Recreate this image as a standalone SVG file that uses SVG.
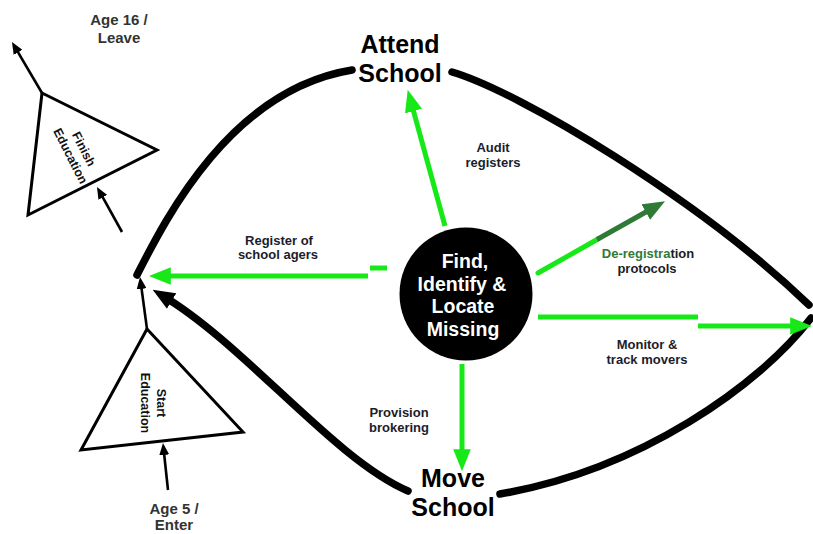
<svg xmlns="http://www.w3.org/2000/svg" width="813" height="534" viewBox="0 0 813 534">
<style>
.arc{fill:none;stroke:#000;stroke-width:7.5;stroke-linecap:round}
.thin{fill:none;stroke:#000;stroke-width:2.6}
.tri{fill:#fff;stroke:#000;stroke-width:3;stroke-linejoin:miter}
.g{fill:none;stroke:#17e817;stroke-width:5}
.dg{fill:none;stroke:#2f7a37;stroke-width:5}
.lbl{font-family:"Liberation Sans",Arial,sans-serif;font-weight:bold;font-size:13px;fill:#1c1c2a;text-anchor:middle}
.age{font-family:"Liberation Sans",Arial,sans-serif;font-weight:bold;font-size:15px;fill:#333;text-anchor:middle}
.big{font-family:"Liberation Sans",Arial,sans-serif;font-weight:bold;font-size:25px;fill:#000;text-anchor:middle}
.tl{font-family:"Liberation Sans",Arial,sans-serif;font-weight:bold;font-size:12.5px;fill:#111;text-anchor:middle}
.ctr{font-family:"Liberation Sans",Arial,sans-serif;font-weight:bold;font-size:19.5px;fill:#fff;text-anchor:middle}
</style>
<defs>
<marker id="ga" markerUnits="userSpaceOnUse" markerWidth="22" markerHeight="18" refX="8" refY="8" orient="auto" viewBox="0 0 20 16"><path d="M0,0 L20,8 L0,16 z" fill="#17e817"/></marker>
<marker id="dga" markerUnits="userSpaceOnUse" markerWidth="22" markerHeight="18" refX="8" refY="8" orient="auto" viewBox="0 0 20 16"><path d="M0,0 L20,8 L0,16 z" fill="#2f7a37"/></marker>
<marker id="ba" markerUnits="userSpaceOnUse" markerWidth="22" markerHeight="18" refX="10" refY="9" orient="auto" viewBox="0 0 22 18"><path d="M0,0 L22,9 L0,18 z" fill="#000"/></marker>
<marker id="sa" markerUnits="userSpaceOnUse" markerWidth="12" markerHeight="10" refX="6" refY="5" orient="auto" viewBox="0 0 12 10"><path d="M0,0 L12,5 L0,10 z" fill="#000"/></marker>
</defs>
<rect width="813" height="534" fill="#fff"/>

<g id="connectors">
<path class="arc" d="M137,275 C165,220 230,90 352,70"/>
<path class="arc" d="M452,72 C520,92 700,200 809,305"/>
<path class="arc" d="M811,318 C760,385 640,470 500,494"/>
<path class="arc" d="M408,491 C335,460 245,345 163,296" marker-end="url(#ba)"/>
<line class="thin" x1="147" y1="329" x2="140.8" y2="283" marker-end="url(#sa)"/>
<line class="thin" x1="168" y1="490" x2="163.6" y2="449" marker-end="url(#sa)"/>
<line class="thin" x1="42" y1="93" x2="15" y2="47.2" marker-end="url(#sa)"/>
<line class="thin" x1="122" y1="232" x2="99.9" y2="192.2" marker-end="url(#sa)"/>
<line class="g" x1="445" y1="226" x2="411.2" y2="102.6" marker-end="url(#ga)"/>
<line class="g" x1="368" y1="276" x2="162" y2="276" marker-end="url(#ga)"/>
<line class="g" x1="370" y1="268" x2="387" y2="268"/>
<line class="g" x1="538" y1="273" x2="598" y2="239" stroke-linecap="round"/>
<line class="dg" x1="597" y1="239.5" x2="653.5" y2="207.8" marker-end="url(#dga)"/>
<line class="g" x1="538" y1="317" x2="698" y2="317"/>
<line class="g" x1="698" y1="326" x2="799" y2="326" marker-end="url(#ga)"/>
<line class="g" x1="462" y1="364" x2="462" y2="458" marker-end="url(#ga)"/>
</g>

<g id="attend-school">
<text class="big" x="400" y="53">Attend</text>
<text class="big" x="400" y="82">School</text>
</g>
<g id="move-school">
<text class="big" x="453" y="487">Move</text>
<text class="big" x="453" y="516">School</text>
</g>
<g id="find-identify">
<circle cx="466" cy="294" r="66.5" fill="#000"/>
<text class="ctr" x="465" y="268">Find,</text>
<text class="ctr" x="462" y="291">Identify &amp;</text>
<text class="ctr" x="463" y="313">Locate</text>
<text class="ctr" x="463" y="336">Missing</text>
</g>
<g id="start-education">
<polygon class="tri" points="147,329 81,450 243,432"/>
<g transform="translate(155,403) rotate(90)">
<text class="tl" x="0" y="-2">Start</text>
<text class="tl" x="0" y="14">Education</text>
</g>
</g>
<g id="finish-education">
<polygon class="tri" points="42,93 157,150 28,215"/>
<g transform="translate(80,151) rotate(63)">
<text class="tl" x="0" y="0">Finish</text>
<text class="tl" x="0" y="15">Education</text>
</g>
</g>
<g id="age-16">
<text class="age" x="119" y="25">Age 16 /</text>
<text class="age" x="119" y="43">Leave</text>
</g>
<g id="age-5">
<text class="age" x="174" y="514">Age 5 /</text>
<text class="age" x="174" y="530">Enter</text>
</g>
<g id="labels">
<text class="lbl" x="493" y="152">Audit</text>
<text class="lbl" x="493" y="167">registers</text>
<text class="lbl" x="279" y="245">Register of</text>
<text class="lbl" x="278" y="259">school agers</text>
<text class="lbl" x="648" y="258"><tspan fill="#2f7a37">De-registra</tspan>tion</text>
<text class="lbl" x="647" y="273">protocols</text>
<text class="lbl" x="647" y="349">Monitor &amp;</text>
<text class="lbl" x="647" y="364">track movers</text>
<text class="lbl" x="399" y="417">Provision</text>
<text class="lbl" x="399" y="432">brokering</text>
</g>
</svg>
